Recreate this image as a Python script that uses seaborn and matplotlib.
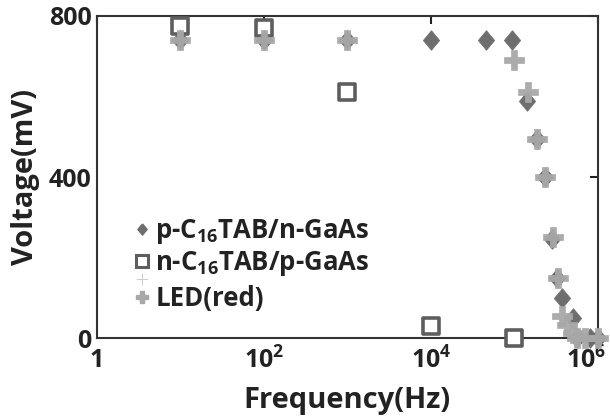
import numpy as np
import pandas as pd
import seaborn as sns
import matplotlib.pyplot as plt
import matplotlib.transforms as mtransforms
from matplotlib.lines import Line2D
from matplotlib.legend_handler import HandlerLine2D, HandlerTuple

# p-C16TAB/n-GaAs (diamonds)
freq_p = [10, 100, 1000, 1e4, 4.6e4, 9.5e4, 1.4e5, 1.85e5, 2.35e5, 2.8e5, 3.25e5, 3.7e5, 5e5, 5.6e5, 8e5, 1e6]
volt_p = [740, 740, 740, 740, 740, 740, 590, 495, 400, 245, 150, 100, 50, 0, 0, 0]

# n-C16TAB/p-GaAs (open squares)
freq_n = [10, 100, 1000, 1e4, 1e5]
volt_n = [775, 770, 610, 30, 0]

# LED(red) (filled plus)
freq_led = [10, 100, 1000, 1e5, 1.45e5, 1.85e5, 2.35e5, 2.9e5, 3.3e5, 3.75e5, 4.3e5, 5e5, 5.6e5, 7e5, 1e6]
volt_led = [740, 740, 740, 690, 612, 495, 400, 250, 150, 55, 32, 12, 0, 0, 0]

x_ticks = [1, 1e2, 1e4, 1e6]
x_ticklabels = ["1", "10$^2$", "10$^4$", "10$^6$"]
y_ticks = [0, 400, 800]

c_diamond = "#6e6e6e"
c_square = "#5e5e5e"
c_plus = "#a8a8a8"
c_text = "#222222"

sns.set_style("white")
plt.rcParams['font.family'] = ['Open Sans', 'DejaVu Sans']
plt.rcParams['font.weight'] = 'bold'
plt.rcParams['mathtext.fontset'] = 'custom'
plt.rcParams['mathtext.rm'] = 'Open Sans:bold'
plt.rcParams['mathtext.bf'] = 'Open Sans:bold'
plt.rcParams['mathtext.default'] = 'bf'

fig = plt.figure(figsize=(6.1, 4.19), dpi=100)
ax = fig.add_axes([0.159, 0.193, 0.821, 0.769])

diamond = [(0, 1.2), (1, 0), (0, -1.2), (-1, 0), (0, 1.2)]

df_n = pd.DataFrame({"f": freq_n, "v": volt_n})
df_p = pd.DataFrame({"f": freq_p, "v": volt_p})
df_led = pd.DataFrame({"f": freq_led, "v": volt_led})

sns.scatterplot(data=df_n, x="f", y="v", ax=ax, marker="s", s=140, color="white",
                edgecolor=c_square, linewidth=2.6, clip_on=False, zorder=3, legend=False)
sns.scatterplot(data=df_p, x="f", y="v", ax=ax, marker=diamond, s=200, color=c_diamond,
                edgecolor=c_diamond, linewidth=0.5, clip_on=False, zorder=4, legend=False)
sns.scatterplot(data=df_led, x="f", y="v", ax=ax, marker="P", s=200, color=c_plus,
                edgecolor=c_plus, linewidth=0.5, alpha=0.95, clip_on=False, zorder=5,
                legend=False)

ax.set_xscale("log")
ax.set_xlim(1, 1e6)
ax.set_ylim(0, 800)
ax.set_xticks(x_ticks)
ax.set_xticklabels(x_ticklabels)
ax.set_yticks(y_ticks)
ax.minorticks_off()
ax.tick_params(axis="both", which="major", direction="in", length=6, width=1.5,
               top=True, right=True, labelsize=18, color=c_text, labelcolor=c_text)
ax.tick_params(axis="x", pad=7)
ax.tick_params(axis="y", pad=4)
# last x label is pulled left so it stays inside the figure
last = ax.get_xticklabels()[-1]
last.set_transform(last.get_transform() +
                   mtransforms.ScaledTranslation(-12 / 100, 0, fig.dpi_scale_trans))
for sp in ax.spines.values():
    sp.set_linewidth(1.5)
    sp.set_color("#333333")

ax.set_xlabel("Frequency(Hz)", fontsize=21, fontweight="bold", labelpad=8, color=c_text)
ax.set_ylabel("Voltage(mV)", fontsize=21, fontweight="bold", labelpad=6, color=c_text)


class ShiftedHandler(HandlerLine2D):
    def __init__(self, dy, **kw):
        super().__init__(**kw)
        self.dy = dy

    def create_artists(self, legend, orig_handle, xdescent, ydescent, width, height,
                       fontsize, trans):
        arts = super().create_artists(legend, orig_handle, xdescent, ydescent, width,
                                      height, fontsize, trans)
        for a in arts:
            a.set_ydata(np.asarray(a.get_ydata()) + self.dy)
        return arts


h_p = Line2D([], [], ls="", marker=diamond, markersize=8, color=c_diamond,
             markeredgecolor=c_diamond)
h_n = Line2D([], [], ls="", marker="s", markersize=8, markerfacecolor="white",
             markeredgecolor=c_square, markeredgewidth=2.2)
h_thin = Line2D([], [], ls="", marker="+", markersize=9, color="#c8c8c8",
                markeredgewidth=0.6)
h_led = Line2D([], [], ls="", marker="P", markersize=9, color=c_plus)

leg_kw = dict(loc="upper left", frameon=False, fontsize=18.5, handlelength=0.8,
              handletextpad=0.1, borderaxespad=0, borderpad=0)
leg1 = ax.legend([h_p, h_n], ["p-C$_{16}$TAB/n-GaAs", "n-C$_{16}$TAB/p-GaAs"],
                 bbox_to_anchor=(0.07, 0.375), labelspacing=0.1, **leg_kw)
ax.add_artist(leg1)
leg2 = ax.legend([(h_thin, h_led)], ["LED(red)"], bbox_to_anchor=(0.07, 0.165),
                 handler_map={tuple: HandlerTuple(ndivide=1, pad=0),
                              h_thin: ShiftedHandler(dy=13)}, **leg_kw)
for lg in (leg1, leg2):
    for t in lg.get_texts():
        t.set_fontweight("bold")
        t.set_color(c_text)

fig.savefig("out.png", dpi=100)
